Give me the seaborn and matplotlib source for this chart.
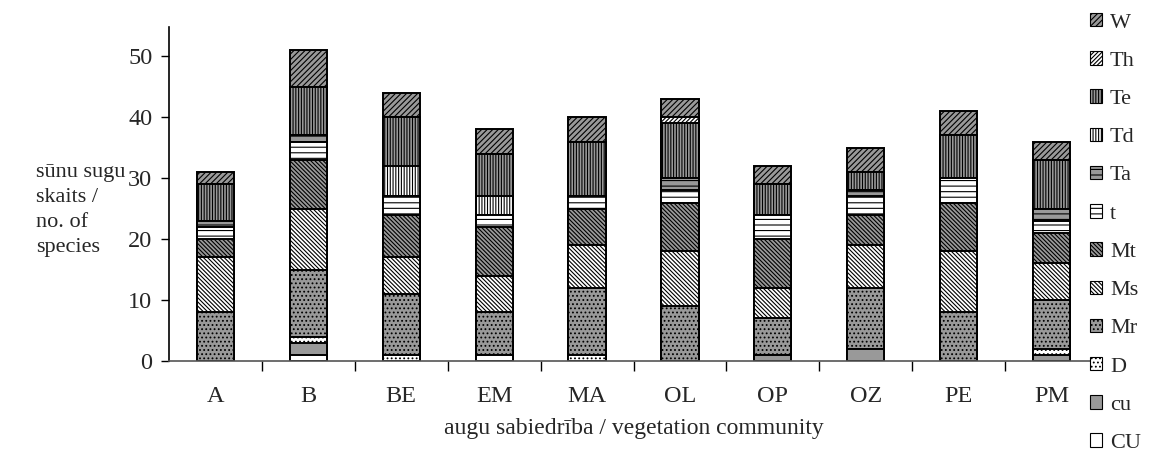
import numpy as np
import pandas as pd
import matplotlib
matplotlib.use("Agg")
import matplotlib.pyplot as plt
from matplotlib.patches import Patch
import seaborn as sns

# Vegetation communities
communities = ["A", "B", "BE", "EM", "MA", "OL", "OP", "OZ", "PE", "PM"]

# Number of moss species per life-form group (stacked bottom -> top)
CU = [0, 1, 0, 1, 0, 0, 0, 0, 0, 0]
cu = [0, 2, 0, 0, 0, 0, 1, 2, 0, 1]
D  = [0, 1, 1, 0, 1, 0, 0, 0, 0, 1]
Mr = [8, 11, 10, 7, 11, 9, 6, 10, 8, 8]
Ms = [9, 10, 6, 6, 7, 9, 5, 7, 10, 6]
Mt = [3, 8, 7, 8, 6, 8, 8, 5, 8, 5]
t  = [2, 3, 3, 2, 2, 2, 4, 3, 4, 2]
Ta = [1, 1, 0, 0, 0, 2, 0, 1, 0, 2]
Td = [0, 0, 5, 3, 0, 0, 0, 0, 0, 0]
Te = [6, 8, 8, 7, 9, 9, 5, 3, 7, 8]
Th = [0, 0, 0, 0, 0, 1, 0, 0, 0, 0]
W  = [2, 6, 4, 4, 4, 3, 3, 4, 4, 3]

group_names = ["CU", "cu", "D", "Mr", "Ms", "Mt", "t", "Ta", "Td", "Te", "Th", "W"]
group_values = [CU, cu, D, Mr, Ms, Mt, t, Ta, Td, Te, Th, W]

GRAY = "#999999"
WHITE = "#ffffff"
styles = {
    "CU": (WHITE, ""),
    "cu": (GRAY, ""),
    "D":  (WHITE, "...."),
    "Mr": (GRAY, "...."),
    "Ms": (WHITE, "\\" * 8),
    "Mt": (GRAY, "\\" * 8),
    "t":  (WHITE, "---"),
    "Ta": (GRAY, "---"),
    "Td": (WHITE, "||||||"),
    "Te": (GRAY, "||||||"),
    "Th": (WHITE, "/" * 8),
    "W":  (GRAY, "//////"),
}

sns.set_theme(style="white")
plt.rcParams["font.family"] = ["Liberation Serif", "DejaVu Serif"]
plt.rcParams["hatch.linewidth"] = 0.8
plt.rcParams["hatch.color"] = "black"

fig = plt.figure(figsize=(11.76, 4.63), dpi=100)
ax = fig.add_axes([169 / 1176, 1 - 361 / 463, (1098 - 169) / 1176, (361 - 27) / 463])

df = pd.DataFrame(dict(zip(group_names, group_values)), index=communities)
cum = df.cumsum(axis=1)

# Draw cumulative totals from the top layer down so lower layers cover the upper ones
for name in reversed(group_names):
    fc, hatch = styles[name]
    sns.barplot(x=communities, y=cum[name].values, color=fc, saturation=1,
                width=0.4, edgecolor="black", linewidth=1.4, hatch=hatch, ax=ax)

ax.set_ylim(0, 54.8)
ax.set_xlim(-0.5, 9.5)

# y axis
ax.set_yticks(np.arange(0, 51, 10))
ax.tick_params(axis="y", which="major", direction="out", length=6, width=1,
               color="black", labelsize=17.5, pad=6, left=True)

# x axis: tick marks between categories, labels under the bars
ax.set_xticks(np.arange(0.5, 9.5, 1.0))
ax.set_xticklabels([])
ax.set_xticks(np.arange(10), minor=True)
ax.set_xticklabels(communities, minor=True)
ax.tick_params(axis="x", which="major", direction="out", length=7, width=1,
               color="black", bottom=True)
ax.tick_params(axis="x", which="minor", length=0, labelsize=17.5, pad=18)

for side in ["top", "right"]:
    ax.spines[side].set_visible(False)
ax.spines["left"].set_color("black")
ax.spines["left"].set_linewidth(1.2)
ax.spines["bottom"].set_color("#555555")
ax.spines["bottom"].set_linewidth(1.2)

ax.set_xlabel("augu sabiedrība / vegetation community", fontsize=17, labelpad=8)
ax.set_ylabel("")
fig.text(36 / 1176, 1 - 210 / 463, "sūnu sugu\nskaits /\nno. of\nspecies",
         fontsize=16, ha="left", va="center", linespacing=1.45)

handles = [Patch(facecolor=styles[n][0], edgecolor="black", hatch=styles[n][1],
                 linewidth=0.8, label=n) for n in reversed(group_names)]
fig.legend(handles=handles, loc="upper left", bbox_to_anchor=(1090 / 1176, 1 - 13 / 463),
           frameon=False, fontsize=16, handlelength=0.55, handleheight=0.55,
           handletextpad=0.35, labelspacing=0.84, borderaxespad=0, borderpad=0)

fig.savefig("out.png", dpi=100)
